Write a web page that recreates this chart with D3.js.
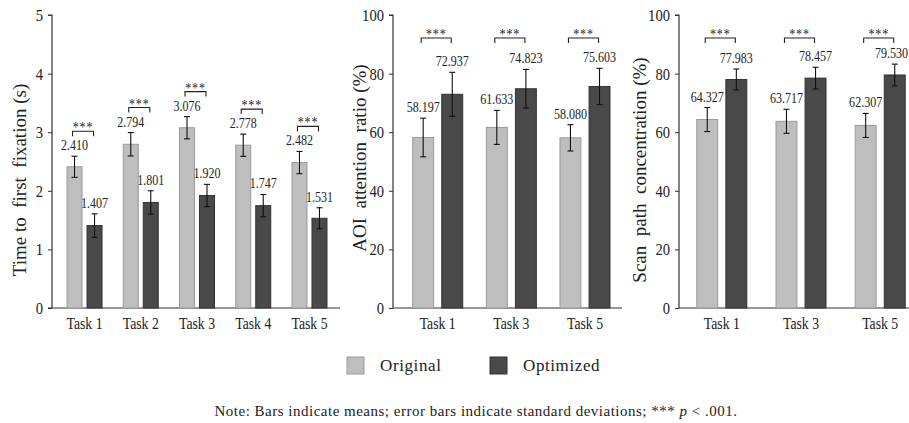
<!DOCTYPE html>
<html>
<head>
<meta charset="utf-8">
<script src="https://cdn.jsdelivr.net/npm/d3@7"></script>
<style>
  body { margin: 0; background: #fff; }
  svg text { font-family: "Liberation Serif", "Times New Roman", "DejaVu Serif", serif; }
  .axis-line { stroke: #333; stroke-width: 1.2; }
</style>
</head>
<body>
<svg id="chart" width="909" height="423"></svg>
<script>
// data
const seriesNames = ['Original', 'Optimized'];

const tasksA = ['Task 1', 'Task 2', 'Task 3', 'Task 4', 'Task 5'];
const tffOriginal = [2.410, 2.794, 3.076, 2.778, 2.482];
const tffOptimized = [1.407, 1.801, 1.920, 1.747, 1.531];
const tffOriginalSD = [0.18, 0.20, 0.19, 0.19, 0.19];
const tffOptimizedSD = [0.20, 0.20, 0.19, 0.19, 0.18];
const tffTicks = [0, 1, 2, 3, 4, 5];

const tasksB = ['Task 1', 'Task 3', 'Task 5'];
const aoiOriginal = [58.197, 61.633, 58.080];
const aoiOptimized = [72.937, 74.823, 75.603];
const aoiOriginalSD = [6.6, 5.8, 4.5];
const aoiOptimizedSD = [7.5, 6.6, 6.2];

const scanOriginal = [64.327, 63.717, 62.307];
const scanOptimized = [77.983, 78.457, 79.530];
const scanOriginalSD = [4.1, 4.1, 4.1];
const scanOptimizedSD = [3.6, 3.7, 3.7];
const pctTicks = [0, 20, 40, 60, 80, 100];

const colors = { Original: '#bebebe', Optimized: '#494949' };
const strokes = { Original: '#9a9a9a', Optimized: '#333' };
const squeeze = 0.86; // the figure's type is narrow

const svg = d3.select('#chart');

function rows(tasks, orig, opt, origSD, optSD) {
  return tasks.map((t, i) => ({
    task: t,
    vals: [
      { key: 'Original', v: orig[i], sd: origSD[i] },
      { key: 'Optimized', v: opt[i], sd: optSD[i] }
    ]
  }));
}

// narrow text placed at (x, y)
function narrowText(sel, x, y) {
  return sel.attr('x', 0).attr('y', 0)
    .attr('transform', (d, i, n) => {
      const xx = typeof x === 'function' ? x(d, i, n) : x;
      const yy = typeof y === 'function' ? y(d, i, n) : y;
      return `translate(${xx},${yy}) scale(${squeeze},1)`;
    });
}

const panels = [
  {
    data: rows(tasksA, tffOriginal, tffOptimized, tffOriginalSD, tffOptimizedSD),
    max: 5, ticks: tffTicks,
    axisX: 52, lineStart: 48, lineEnd: 340, range: [56.4, 337.6], group: 35, inner: 0.25,
    title: 'Time to  first  fixation (s)', titleX: 26, titleY: 180,
    bracketFixed: null
  },
  {
    data: rows(tasksB, aoiOriginal, aoiOptimized, aoiOriginalSD, aoiOptimizedSD),
    max: 100, ticks: pctTicks,
    axisX: 393, lineStart: 393, lineEnd: 622, range: [400.9, 621.8], group: 50, inner: 0.28,
    title: 'AOI  attention  ratio (%)', titleX: 366, titleY: 158,
    bracketFixed: 38
  },
  {
    data: rows(tasksB, scanOriginal, scanOptimized, scanOriginalSD, scanOptimizedSD),
    max: 100, ticks: pctTicks,
    axisX: 679, lineStart: 679, lineEnd: 909, range: [682.2, 919.8], group: 50, inner: 0.28,
    title: 'Scan  path  concentration (%)', titleX: 646, titleY: 170,
    bracketFixed: 38
  }
];

const yTop = 15, yBottom = 308;
const fmt = d3.format('.3f');

panels.forEach(p => {
  const g = svg.append('g');

  const y = d3.scaleLinear().domain([0, p.max]).range([yBottom, yTop]);
  const step = (p.range[1] - p.range[0]) / p.data.length;
  const x0 = d3.scaleBand()
    .domain(p.data.map(d => d.task))
    .range(p.range)
    .paddingInner(1 - p.group / step)
    .paddingOuter((1 - p.group / step) / 2);
  const x1 = d3.scaleBand()
    .domain(seriesNames)
    .range([0, x0.bandwidth()])
    .paddingInner(p.inner);

  // y axis
  const yAxis = g.append('g')
    .attr('transform', `translate(${p.axisX},0)`)
    .call(d3.axisLeft(y).tickValues(p.ticks).tickFormat(d3.format('d')).tickSize(4).tickPadding(5));
  yAxis.attr('font-family', null);
  yAxis.select('.domain').attr('stroke', '#333').attr('stroke-width', 1.2)
    .attr('d', `M-4,${yTop}H0V${yBottom}`);
  yAxis.selectAll('.tick line').attr('stroke', '#333');
  yAxis.selectAll('.tick text').each(function() {
    const t = d3.select(this);
    const tx = +t.attr('x');
    t.attr('x', 0).attr('transform', `translate(${tx},0) scale(${squeeze},1)`);
  })
    .attr('font-size', 17).attr('fill', '#222');

  // x axis line + labels
  g.append('line').attr('class', 'axis-line')
    .attr('x1', p.lineStart).attr('x2', p.lineEnd)
    .attr('y1', yBottom).attr('y2', yBottom);
  g.selectAll('.xlab')
    .data(p.data)
    .enter().append('text')
    .call(narrowText, d => x0(d.task) + x0.bandwidth() / 2, 329)
    .attr('text-anchor', 'middle')
    .attr('font-size', 16).attr('fill', '#222')
    .text(d => d.task);

  // y title
  g.append('text')
    .attr('transform', `translate(${p.titleX},${p.titleY}) rotate(-90)`)
    .attr('text-anchor', 'middle')
    .attr('font-size', 19).attr('fill', '#222')
    .style('white-space', 'pre')
    .text(p.title);

  const groups = g.selectAll('.grp')
    .data(p.data)
    .enter().append('g')
    .attr('transform', d => `translate(${x0(d.task)},0)`);

  groups.selectAll('rect')
    .data(d => d.vals)
    .enter().append('rect')
    .attr('x', d => x1(d.key))
    .attr('y', d => y(d.v))
    .attr('width', x1.bandwidth())
    .attr('height', d => yBottom - y(d.v))
    .attr('fill', d => colors[d.key])
    .attr('stroke', d => strokes[d.key])
    .attr('stroke-width', 1);

  // error bars
  const err = groups.selectAll('.err')
    .data(d => d.vals)
    .enter().append('g')
    .attr('stroke', '#111').attr('stroke-width', 1.1);
  const cx = d => x1(d.key) + x1.bandwidth() / 2;
  err.append('line')
    .attr('x1', cx).attr('x2', cx)
    .attr('y1', d => y(d.v + d.sd)).attr('y2', d => y(d.v - d.sd));
  err.append('line')
    .attr('x1', d => cx(d) - 3).attr('x2', d => cx(d) + 3)
    .attr('y1', d => y(d.v + d.sd)).attr('y2', d => y(d.v + d.sd));
  err.append('line')
    .attr('x1', d => cx(d) - 3).attr('x2', d => cx(d) + 3)
    .attr('y1', d => y(d.v - d.sd)).attr('y2', d => y(d.v - d.sd));

  // value labels, kept inside the right edge
  groups.each(function(gd) {
    const grp = d3.select(this);
    const gx = x0(gd.task);
    gd.vals.forEach(d => {
      const t = grp.append('text')
        .attr('text-anchor', 'middle')
        .attr('font-size', 14).attr('fill', '#222')
        .text(fmt(d.v));
      const w = t.node().getComputedTextLength() * squeeze;
      let lx = cx(d);
      if (gx + lx + w / 2 > 908) lx = 908 - gx - w / 2;
      t.call(narrowText, lx, y(d.v + d.sd) - 6);
    });
  });

  // significance brackets
  groups.each(function(d) {
    const grp = d3.select(this);
    const a = cx(d.vals[0]) - 2;
    const b = cx(d.vals[1]) - 1;
    const top = Math.min(y(d.vals[0].v + d.vals[0].sd), y(d.vals[1].v + d.vals[1].sd));
    const by = p.bracketFixed !== null ? p.bracketFixed : top - 25;
    grp.append('path')
      .attr('d', `M${a},${by + 5}V${by}H${b}V${by + 5}`)
      .attr('fill', 'none').attr('stroke', '#222').attr('stroke-width', 1.1);
    grp.append('text')
      .call(narrowText, (a + b) / 2, by + 1)
      .attr('text-anchor', 'middle')
      .attr('font-size', 14).attr('fill', '#222')
      .style('letter-spacing', '1px')
      .text('***');
  });
});

// legend
const legend = svg.append('g');
const legendX = [347, 490];
seriesNames.forEach((s, i) => {
  legend.append('rect')
    .attr('x', legendX[i]).attr('y', 357)
    .attr('width', 17).attr('height', 17)
    .attr('fill', colors[s]).attr('stroke', strokes[s]);
  legend.append('text')
    .attr('x', legendX[i] + 33).attr('y', 371)
    .attr('font-size', 17).attr('fill', '#222')
    .style('letter-spacing', '0.6px')
    .text(s);
});

// note
const note = svg.append('text')
  .attr('x', 476).attr('y', 416)
  .attr('text-anchor', 'middle')
  .attr('font-size', 15).attr('fill', '#222')
  .style('letter-spacing', '0.5px');
note.append('tspan').text('Note: Bars indicate means; error bars indicate standard deviations; *** ');
note.append('tspan').attr('font-style', 'italic').text('p');
note.append('tspan').text(' < .001.');
</script>
</body>
</html>
